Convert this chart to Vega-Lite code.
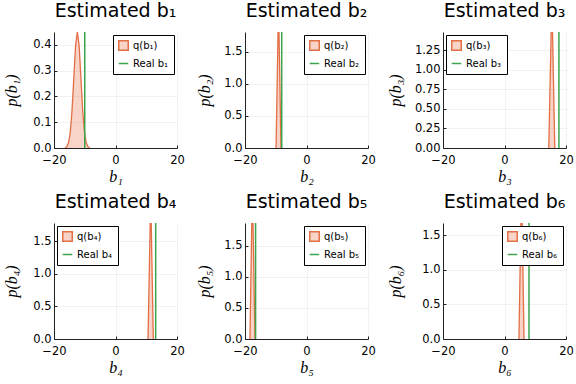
{
  "$schema": "https://vega.github.io/schema/vega-lite/v6.json",
  "background": "white",
  "padding": {"left": 3, "top": 2, "right": 0, "bottom": 0},
  "spacing": 11,
  "resolve": {"scale": {"color": "independent", "x": "independent", "y": "independent"}, "legend": {"color": "independent"}},
  "config": {
    "font": "DejaVu Sans",
    "view": {"stroke": null},
    "axis": {"domainColor": "#222", "domainWidth": 1, "grid": true, "gridColor": "#000", "gridOpacity": 0.1, "gridWidth": 0.5, "tickColor": "#222", "tickSize": -3, "labelPadding": 6, "labelFlush": false, "labelOverlap": false, "labelFontSize": 11.5, "labelColor": "#000", "labelFont": "DejaVu Sans", "titleFont": "Liberation Serif", "titleFontStyle": "italic", "titleFontWeight": "normal", "titleFontSize": 16, "titleColor": "#000"},
    "axisX": {"titlePadding": 3, "labelPadding": 9},
    "title": {"font": "DejaVu Sans", "fontSize": 19, "fontWeight": "normal", "color": "#000", "offset": 11},
    "legend": {"offset": 3, "strokeColor": "#000", "fillColor": "#fff", "padding": 5, "labelFontSize": 10, "labelFont": "DejaVu Sans", "labelColor": "#000", "rowPadding": 4, "symbolSize": 90, "cornerRadius": 0}
  },
  "hconcat": [
    {
      "spacing": 8,
      "resolve": {"scale": {"color": "independent", "x": "independent", "y": "independent"}, "legend": {"color": "independent"}},
      "vconcat": [
        {
          "width": 123, "height": 116,
          "title": "Estimated b₁",
          "data": {"values": [
            {"x": -16.43, "y": 0.001, "s": "q(b₁)"}, {"x": -15.85, "y": 0.005, "s": "q(b₁)"}, {"x": -15.28, "y": 0.02, "s": "q(b₁)"},
            {"x": -14.7, "y": 0.061, "s": "q(b₁)"}, {"x": -14.13, "y": 0.146, "s": "q(b₁)"}, {"x": -13.55, "y": 0.273, "s": "q(b₁)"},
            {"x": -12.98, "y": 0.397, "s": "q(b₁)"}, {"x": -12.4, "y": 0.45, "s": "q(b₁)"}, {"x": -11.83, "y": 0.397, "s": "q(b₁)"},
            {"x": -11.25, "y": 0.273, "s": "q(b₁)"}, {"x": -10.68, "y": 0.146, "s": "q(b₁)"}, {"x": -10.1, "y": 0.061, "s": "q(b₁)"},
            {"x": -9.53, "y": 0.02, "s": "q(b₁)"}, {"x": -8.95, "y": 0.005, "s": "q(b₁)"}, {"x": -8.38, "y": 0.001, "s": "q(b₁)"}
          ]},
          "encoding": {
            "x": {"field": "x", "type": "quantitative", "scale": {"domain": [-20, 20], "nice": false, "zero": false}, "axis": {"values": [-20, 0, 20], "format": "d", "title": "b₁", "labelOverlap": false}},
            "y": {"field": "y", "type": "quantitative", "scale": {"domain": [0, 0.45], "nice": false}, "axis": {"values": [0, 0.1, 0.2, 0.3, 0.4], "format": ".1f", "title": "p(b₁)", "minExtent": 22, "maxExtent": 22, "titlePadding": 13, "labelOverlap": false}},
            "color": {"field": "s", "type": "nominal", "scale": {"domain": ["q(b₁)", "Real b₁"], "range": ["#E36F47", "#3DA44E"]},
              "legend": {"title": null, "orient": "top-right", "encode": {"symbols": {"update": {"shape": {"signal": "datum.index === 0 ? 'square' : 'stroke'"}, "fillOpacity": {"value": 0.3}, "stroke": {"signal": "datum.index === 0 ? '#E36F47' : '#3DA44E'"}, "strokeWidth": {"value": 1.5}, "opacity": {"value": 1}}}}}}
          },
          "layer": [
            {"mark": {"type": "area", "clip": true, "fillOpacity": 0.3}},
            {"mark": {"type": "line", "clip": true, "strokeWidth": 1.3}},
            {"data": {"values": [{"x": -10.0, "s": "Real b₁", "y": 0, "y2": 100}]}, "mark": {"type": "rule", "strokeWidth": 1.5, "clip": true}, "encoding": {"y2": {"field": "y2"}}}
          ]
        },
        {
          "width": 123, "height": 116,
          "title": "Estimated b₄",
          "data": {"values": [
            {"x": 10.57, "y": 0, "s": "q(b₄)"}, {"x": 11.45, "y": 2.2, "s": "q(b₄)"}, {"x": 12.3, "y": 0, "s": "q(b₄)"}
          ]},
          "encoding": {
            "x": {"field": "x", "type": "quantitative", "scale": {"domain": [-20, 20], "nice": false, "zero": false}, "axis": {"values": [-20, 0, 20], "format": "d", "title": "b₄", "labelOverlap": false}},
            "y": {"field": "y", "type": "quantitative", "scale": {"domain": [0, 1.78], "nice": false}, "axis": {"values": [0, 0.5, 1, 1.5], "format": ".1f", "title": "p(b₄)", "minExtent": 22, "maxExtent": 22, "titlePadding": 13, "labelOverlap": false}},
            "color": {"field": "s", "type": "nominal", "scale": {"domain": ["q(b₄)", "Real b₄"], "range": ["#E36F47", "#3DA44E"]},
              "legend": {"title": null, "orient": "top-left", "encode": {"symbols": {"update": {"shape": {"signal": "datum.index === 0 ? 'square' : 'stroke'"}, "fillOpacity": {"value": 0.3}, "stroke": {"signal": "datum.index === 0 ? '#E36F47' : '#3DA44E'"}, "strokeWidth": {"value": 1.5}, "opacity": {"value": 1}}}}}}
          },
          "layer": [
            {"mark": {"type": "area", "clip": true, "fillOpacity": 0.3}},
            {"mark": {"type": "line", "clip": true, "strokeWidth": 1.3}},
            {"data": {"values": [{"x": 13.07, "s": "Real b₄", "y": 0, "y2": 100}]}, "mark": {"type": "rule", "strokeWidth": 1.5, "clip": true}, "encoding": {"y2": {"field": "y2"}}}
          ]
        }
      ]
    },
    {
      "spacing": 8,
      "resolve": {"scale": {"color": "independent", "x": "independent", "y": "independent"}, "legend": {"color": "independent"}},
      "vconcat": [
        {
          "width": 123, "height": 116,
          "title": "Estimated b₂",
          "data": {"values": [
            {"x": -9.9, "y": 0, "s": "q(b₂)"}, {"x": -9.1, "y": 2.25, "s": "q(b₂)"}, {"x": -8.3, "y": 0, "s": "q(b₂)"}
          ]},
          "encoding": {
            "x": {"field": "x", "type": "quantitative", "scale": {"domain": [-20, 20], "nice": false, "zero": false}, "axis": {"values": [-20, 0, 20], "format": "d", "title": "b₂", "labelOverlap": false}},
            "y": {"field": "y", "type": "quantitative", "scale": {"domain": [0, 1.81], "nice": false}, "axis": {"values": [0, 0.5, 1, 1.5], "format": ".1f", "title": "p(b₂)", "minExtent": 22, "maxExtent": 22, "titlePadding": 11, "labelOverlap": false}},
            "color": {"field": "s", "type": "nominal", "scale": {"domain": ["q(b₂)", "Real b₂"], "range": ["#E36F47", "#3DA44E"]},
              "legend": {"title": null, "orient": "top-right", "encode": {"symbols": {"update": {"shape": {"signal": "datum.index === 0 ? 'square' : 'stroke'"}, "fillOpacity": {"value": 0.3}, "stroke": {"signal": "datum.index === 0 ? '#E36F47' : '#3DA44E'"}, "strokeWidth": {"value": 1.5}, "opacity": {"value": 1}}}}}}
          },
          "layer": [
            {"mark": {"type": "area", "clip": true, "fillOpacity": 0.3}},
            {"mark": {"type": "line", "clip": true, "strokeWidth": 1.3}},
            {"data": {"values": [{"x": -8.06, "s": "Real b₂", "y": 0, "y2": 100}]}, "mark": {"type": "rule", "strokeWidth": 1.5, "clip": true}, "encoding": {"y2": {"field": "y2"}}}
          ]
        },
        {
          "width": 123, "height": 116,
          "title": "Estimated b₅",
          "data": {"values": [
            {"x": -18.39, "y": 0, "s": "q(b₅)"}, {"x": -17.6, "y": 2.5, "s": "q(b₅)"}, {"x": -16.77, "y": 0, "s": "q(b₅)"}
          ]},
          "encoding": {
            "x": {"field": "x", "type": "quantitative", "scale": {"domain": [-20, 20], "nice": false, "zero": false}, "axis": {"values": [-20, 0, 20], "format": "d", "title": "b₅", "labelOverlap": false}},
            "y": {"field": "y", "type": "quantitative", "scale": {"domain": [0, 1.87], "nice": false}, "axis": {"values": [0, 0.5, 1, 1.5], "format": ".1f", "title": "p(b₅)", "minExtent": 22, "maxExtent": 22, "titlePadding": 11, "labelOverlap": false}},
            "color": {"field": "s", "type": "nominal", "scale": {"domain": ["q(b₅)", "Real b₅"], "range": ["#E36F47", "#3DA44E"]},
              "legend": {"title": null, "orient": "top-right", "encode": {"symbols": {"update": {"shape": {"signal": "datum.index === 0 ? 'square' : 'stroke'"}, "fillOpacity": {"value": 0.3}, "stroke": {"signal": "datum.index === 0 ? '#E36F47' : '#3DA44E'"}, "strokeWidth": {"value": 1.5}, "opacity": {"value": 1}}}}}}
          },
          "layer": [
            {"mark": {"type": "area", "clip": true, "fillOpacity": 0.3}},
            {"mark": {"type": "line", "clip": true, "strokeWidth": 1.3}},
            {"data": {"values": [{"x": -16.56, "s": "Real b₅", "y": 0, "y2": 100}]}, "mark": {"type": "rule", "strokeWidth": 1.5, "clip": true}, "encoding": {"y2": {"field": "y2"}}}
          ]
        }
      ]
    },
    {
      "spacing": 8,
      "resolve": {"scale": {"color": "independent", "x": "independent", "y": "independent"}, "legend": {"color": "independent"}},
      "vconcat": [
        {
          "width": 123, "height": 116,
          "title": "Estimated b₃",
          "data": {"values": [
            {"x": 14.4, "y": 0, "s": "q(b₃)"}, {"x": 15.4, "y": 1.92, "s": "q(b₃)"}, {"x": 16.35, "y": 0, "s": "q(b₃)"}
          ]},
          "encoding": {
            "x": {"field": "x", "type": "quantitative", "scale": {"domain": [-20, 20], "nice": false, "zero": false}, "axis": {"values": [-20, 0, 20], "format": "d", "title": "b₃", "labelOverlap": false}},
            "y": {"field": "y", "type": "quantitative", "scale": {"domain": [0, 1.48], "nice": false}, "axis": {"values": [0, 0.25, 0.5, 0.75, 1, 1.25], "format": ".2f", "title": "p(b₃)", "minExtent": 28, "maxExtent": 28, "titlePadding": 12, "labelOverlap": false}},
            "color": {"field": "s", "type": "nominal", "scale": {"domain": ["q(b₃)", "Real b₃"], "range": ["#E36F47", "#3DA44E"]},
              "legend": {"title": null, "orient": "top-left", "encode": {"symbols": {"update": {"shape": {"signal": "datum.index === 0 ? 'square' : 'stroke'"}, "fillOpacity": {"value": 0.3}, "stroke": {"signal": "datum.index === 0 ? '#E36F47' : '#3DA44E'"}, "strokeWidth": {"value": 1.5}, "opacity": {"value": 1}}}}}}
          },
          "layer": [
            {"mark": {"type": "area", "clip": true, "fillOpacity": 0.3}},
            {"mark": {"type": "line", "clip": true, "strokeWidth": 1.3}},
            {"data": {"values": [{"x": 17.7, "s": "Real b₃", "y": 0, "y2": 100}]}, "mark": {"type": "rule", "strokeWidth": 1.5, "clip": true}, "encoding": {"y2": {"field": "y2"}}}
          ]
        },
        {
          "width": 123, "height": 116,
          "title": "Estimated b₆",
          "data": {"values": [
            {"x": 4.7, "y": 0, "s": "q(b₆)"}, {"x": 5.55, "y": 2.27, "s": "q(b₆)"}, {"x": 6.34, "y": 0, "s": "q(b₆)"}
          ]},
          "encoding": {
            "x": {"field": "x", "type": "quantitative", "scale": {"domain": [-20, 20], "nice": false, "zero": false}, "axis": {"values": [-20, 0, 20], "format": "d", "title": "b₆", "labelOverlap": false}},
            "y": {"field": "y", "type": "quantitative", "scale": {"domain": [0, 1.68], "nice": false}, "axis": {"values": [0, 0.5, 1, 1.5], "format": ".1f", "title": "p(b₆)", "minExtent": 28, "maxExtent": 28, "titlePadding": 12, "labelOverlap": false}},
            "color": {"field": "s", "type": "nominal", "scale": {"domain": ["q(b₆)", "Real b₆"], "range": ["#E36F47", "#3DA44E"]},
              "legend": {"title": null, "orient": "top-right", "encode": {"symbols": {"update": {"shape": {"signal": "datum.index === 0 ? 'square' : 'stroke'"}, "fillOpacity": {"value": 0.3}, "stroke": {"signal": "datum.index === 0 ? '#E36F47' : '#3DA44E'"}, "strokeWidth": {"value": 1.5}, "opacity": {"value": 1}}}}}}
          },
          "layer": [
            {"mark": {"type": "area", "clip": true, "fillOpacity": 0.3}},
            {"mark": {"type": "line", "clip": true, "strokeWidth": 1.3}},
            {"data": {"values": [{"x": 7.97, "s": "Real b₆", "y": 0, "y2": 100}]}, "mark": {"type": "rule", "strokeWidth": 1.5, "clip": true}, "encoding": {"y2": {"field": "y2"}}}
          ]
        }
      ]
    }
  ]
}
